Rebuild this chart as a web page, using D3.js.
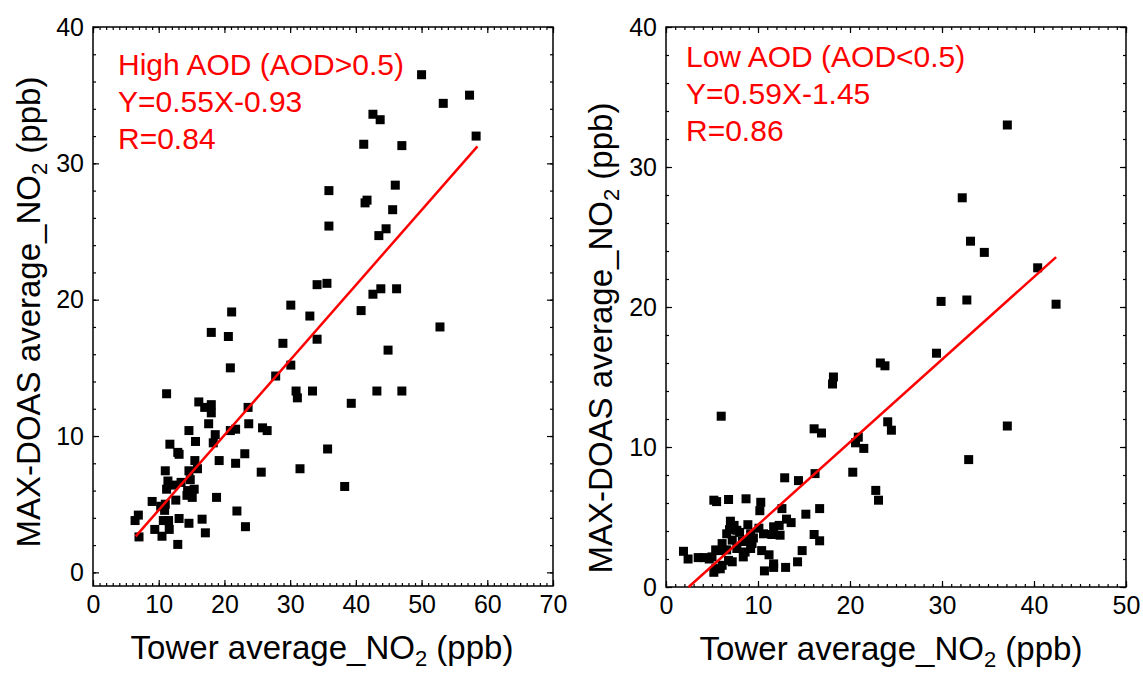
<!DOCTYPE html>
<html>
<head>
<meta charset="utf-8">
<script src="https://cdn.jsdelivr.net/npm/d3@7"></script>
<style>
  body { margin: 0; background: #fff; }
  text { font-family: Arial, 'Liberation Sans', sans-serif; }
</style>
</head>
<body>
<svg id="chart" width="1143" height="673"></svg>
<script>
// High AOD (AOD>0.5)
const highX = [50.0, 57.3, 53.3, 42.6, 43.7, 58.3, 41.2, 47.0, 35.9, 46.0, 41.4, 41.7, 45.6, 35.9, 44.6, 43.5,
  34.1, 35.6, 43.8, 42.6, 46.2, 30.1, 21.1, 40.8, 33.0, 18.0, 20.6, 52.8, 28.9, 34.1, 44.9, 20.9, 30.1, 27.8,
  30.9, 31.1, 33.4, 43.2, 47.0, 39.3, 11.2, 16.1, 17.0, 18.0, 18.0, 23.6, 17.6, 23.7, 20.9, 21.7, 25.8, 26.5,
  14.6, 18.6, 18.3, 15.6, 11.7, 12.9, 13.1, 23.1, 35.7, 15.5, 19.2, 21.7, 11.0, 14.6, 15.9, 25.6, 31.5, 11.4,
  14.8, 13.4, 12.2, 11.2, 14.4, 15.4, 15.1, 14.3, 18.8, 12.6, 9.0, 11.0, 10.3, 10.9, 21.9, 38.3, 6.9, 6.4,
  13.1, 10.7, 11.5, 16.6, 14.6, 23.2, 9.4, 11.6, 17.1, 10.5, 7.0, 12.9];
const highY = [36.5, 35.0, 34.4, 33.6, 33.2, 32.0, 31.4, 31.3, 28.0, 28.4, 27.1, 27.3, 26.6, 25.4, 25.2, 24.7,
  21.1, 21.2, 20.8, 20.4, 20.8, 19.6, 19.1, 19.2, 18.8, 17.6, 17.3, 18.0, 16.8, 17.1, 16.3, 15.0, 15.2, 14.4,
  13.3, 12.8, 13.3, 13.3, 13.3, 12.4, 13.1, 12.5, 12.1, 12.3, 11.7, 12.1, 10.9, 10.9, 10.4, 10.5, 10.6, 10.4,
  10.4, 10.1, 9.5, 9.6, 9.4, 8.8, 8.66, 8.7, 9.05, 8.2, 8.2, 8.0, 7.45, 7.45, 7.6, 7.35, 7.6, 6.7,
  6.8, 6.6, 6.4, 6.1, 6.0, 6.1, 5.5, 5.65, 5.5, 5.3, 5.2, 5.0, 4.85, 4.55, 4.5, 6.3, 4.2, 3.8,
  3.95, 3.8, 3.8, 3.9, 3.6, 3.35, 3.15, 3.15, 2.9, 2.65, 2.6, 2.05];

// Low AOD (AOD<0.5)
const lowX = [37.1, 32.2, 33.1, 34.6, 40.4, 29.9, 32.7, 42.4, 29.4, 23.3, 23.8, 18.2, 18.1, 6.0, 37.1, 24.1,
  24.5, 16.1, 16.9, 20.9, 20.6, 21.5, 32.9, 20.3, 16.2, 12.9, 14.4, 22.8, 23.1, 5.2, 5.5, 6.8, 8.7, 10.3,
  10.2, 12.6, 16.7, 15.2, 7.0, 13.1, 13.6, 8.9, 6.9, 7.7, 10.1, 11.7, 12.3, 6.6, 9.2, 10.6, 11.5, 12.4,
  16.1, 16.7, 6.1, 7.2, 8.3, 9.35, 8.8, 7.7, 9.2, 8.6, 8.4, 6.6, 5.4, 5.8, 10.4, 11.2, 14.8, 1.9,
  2.4, 3.5, 4.1, 4.7, 5.0, 6.8, 7.2, 6.1, 5.9, 5.4, 5.2, 10.7, 11.7, 11.7, 13.0, 14.3, 9.5, 8.0, 7.4];
const lowY = [33.0, 27.8, 24.7, 23.9, 22.8, 20.4, 20.5, 20.2, 16.7, 16.0, 15.8, 15.0, 14.5, 12.2, 11.5, 11.8,
  11.2, 11.3, 11.0, 10.7, 10.3, 9.9, 9.1, 8.2, 8.1, 7.8, 7.6, 6.9, 6.2, 6.2, 6.1, 6.25, 6.3, 6.05,
  5.45, 5.6, 5.6, 5.2, 4.7, 4.85, 4.6, 4.45, 4.1, 4.05, 4.2, 4.3, 4.4, 3.8, 3.8, 3.8, 3.75, 3.7,
  3.75, 3.3, 3.1, 3.35, 3.25, 3.1, 3.3, 2.75, 2.75, 2.5, 2.15, 2.65, 2.65, 2.6, 2.6, 2.3, 2.6, 2.55,
  2.0, 2.1, 2.1, 2.0, 2.15, 1.9, 1.8, 1.55, 1.3, 1.3, 1.05, 1.15, 1.4, 1.65, 1.4, 1.8, 3.5, 3.9, 4.4];

// fitted lines: slope, intercept, x range
const highFit = [0.55, -0.93, 6.5, 58.5];
const lowFit = [0.59, -1.45, 2.46, 42.4];

const highXTicks = [0, 10, 20, 30, 40, 50, 60, 70];
const lowXTicks = [0, 10, 20, 30, 40, 50];
const yTicks = [0, 10, 20, 30, 40];

const highText = ['High AOD (AOD>0.5)', 'Y=0.55X-0.93', 'R=0.84'];
const lowText = ['Low AOD (AOD<0.5)', 'Y=0.59X-1.45', 'R=0.86'];

let svg = d3.select('#chart');

function drawPanel(opt) {
  var x = d3.scaleLinear().domain(opt.xDomain).range([opt.left, opt.right]);
  var y = d3.scaleLinear().domain(opt.yDomain).range([opt.bottom, opt.top]);
  var w = opt.right - opt.left, h = opt.bottom - opt.top;

  let g = svg.append('g');

  var xMinor = d3.range(opt.xDomain[0], opt.xDomain[1] + 0.01, 1);
  var yMinor = d3.range(0, opt.yDomain[1] + 0.01, 2);

  // minor ticks, all four sides
  g.append('g').attr('transform', 'translate(0,' + opt.bottom + ')')
    .call(d3.axisBottom(x).tickValues(xMinor).tickSize(-3).tickFormat(''));
  g.append('g').attr('transform', 'translate(0,' + opt.top + ')')
    .call(d3.axisTop(x).tickValues(xMinor).tickSize(-3).tickFormat(''));
  g.append('g').attr('transform', 'translate(' + opt.left + ',0)')
    .call(d3.axisLeft(y).tickValues(yMinor).tickSize(-3).tickFormat(''));
  g.append('g').attr('transform', 'translate(' + opt.right + ',0)')
    .call(d3.axisRight(y).tickValues(yMinor).tickSize(-3).tickFormat(''));

  // major ticks
  g.append('g').attr('class', 'xaxis').attr('transform', 'translate(0,' + opt.bottom + ')')
    .call(d3.axisBottom(x).tickValues(opt.xTicks).tickSize(-6).tickPadding(9));
  g.append('g').attr('transform', 'translate(0,' + opt.top + ')')
    .call(d3.axisTop(x).tickValues(opt.xTicks).tickSize(-6).tickFormat(''));
  g.append('g').attr('class', 'yaxis').attr('transform', 'translate(' + opt.left + ',0)')
    .call(d3.axisLeft(y).tickValues(yTicks).tickSize(-6).tickPadding(9));
  g.append('g').attr('transform', 'translate(' + opt.right + ',0)')
    .call(d3.axisRight(y).tickValues(yTicks).tickSize(-6).tickFormat(''));

  g.selectAll('.domain').remove();
  g.selectAll('.tick line').attr('stroke', '#000').attr('stroke-width', 1.2);
  g.selectAll('.tick text')
    .attr('fill', '#000')
    .style('font-size', '25px')
    .style('font-family', "Arial, 'Liberation Sans', sans-serif");

  // frame
  g.append('rect')
    .attr('x', opt.left).attr('y', opt.top)
    .attr('width', w).attr('height', h)
    .attr('fill', 'none')
    .attr('stroke', '#000')
    .attr('stroke-width', 1.5);

  // points
  var pts = opt.xs.map((v, i) => [v, opt.ys[i]]);
  var s = 9;
  g.append('g').selectAll('rect')
    .data(pts)
    .enter().append('rect')
    .attr('x', d => x(d[0]) - s / 2)
    .attr('y', d => y(d[1]) - s / 2)
    .attr('width', s)
    .attr('height', s)
    .attr('fill', '#000');

  // regression line
  var f = opt.fit;
  g.append('line')
    .attr('x1', x(f[2])).attr('y1', y(f[0] * f[2] + f[1]))
    .attr('x2', x(f[3])).attr('y2', y(f[0] * f[3] + f[1]))
    .attr('stroke', '#ff0000')
    .attr('stroke-width', 2.5);

  // annotation
  g.append('g').selectAll('text')
    .data(opt.text)
    .enter().append('text')
    .attr('x', opt.textX)
    .attr('y', (d, i) => opt.textY + i * 37)
    .attr('fill', '#ff0000')
    .style('font-size', '30px')
    .text(d => d);

  // axis titles
  let xt = g.append('text')
    .attr('x', opt.xTitleX).attr('y', opt.xTitleY)
    .attr('text-anchor', 'middle')
    .style('font-size', '33px');
  xt.append('tspan').text('Tower average_NO');
  xt.append('tspan').attr('dy', 7).style('font-size', '22px').text('2');
  xt.append('tspan').attr('dy', -7).text(' (ppb)');

  let yt = g.append('text')
    .attr('transform', 'translate(' + opt.yTitleX + ',' + opt.yTitleY + ') rotate(-90)')
    .attr('text-anchor', 'middle')
    .style('font-size', '33px');
  yt.append('tspan').text('MAX-DOAS average_NO');
  yt.append('tspan').attr('dy', 7).style('font-size', '22px').text('2');
  yt.append('tspan').attr('dy', -7).text(' (ppb)');
}

drawPanel({
  xs: highX, ys: highY, fit: highFit, text: highText,
  xDomain: [0, 70], yDomain: [-1, 40], xTicks: highXTicks,
  left: 93, right: 553, top: 27, bottom: 586,
  textX: 118, textY: 75,
  xTitleX: 322, xTitleY: 659,
  yTitleX: 40, yTitleY: 312
});

drawPanel({
  xs: lowX, ys: lowY, fit: lowFit, text: lowText,
  xDomain: [0, 50], yDomain: [0, 40], xTicks: lowXTicks,
  left: 666, right: 1126, top: 27, bottom: 587,
  textX: 686, textY: 67,
  xTitleX: 891, xTitleY: 660,
  yTitleX: 612, yTitleY: 338
});
</script>
</body>
</html>
